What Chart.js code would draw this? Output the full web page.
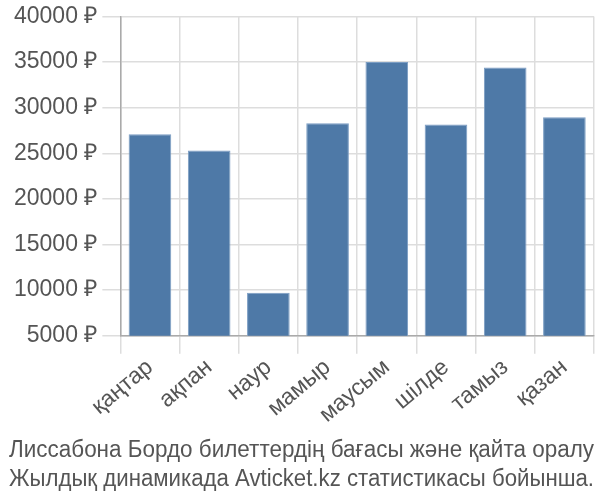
<!doctype html>
<html>
<head>
<meta charset="utf-8">
<script src="https://cdn.jsdelivr.net/npm/chart.js"></script>
<style>
  html,body{margin:0;padding:0;background:#fff}
  #wrap{width:600px;height:500px;position:relative}
</style>
</head>
<body>
<div id="wrap"><canvas id="c"></canvas></div>
<script>
const months = ['қаңтар', 'ақпан', 'наур', 'мамыр', 'маусым', 'шілде', 'тамыз', 'қазан'];
const prices = [27100, 25300, 9700, 28300, 35000, 28150, 34400, 28950];
const titleLines = ['Лиссабона Бордо билеттердің бағасы және қайта оралу', 'Жылдық динамикада Avticket.kz статистикасы бойынша.'];

const grid = '#dddddd';
new Chart(document.getElementById('c'), {
  type: 'bar',
  data: {
    labels: months,
    datasets: [{
      data: prices,
      backgroundColor: '#4e79a7',
      borderColor: '#7b9dc3',
      borderWidth: 1,
      barPercentage: 0.72,
      categoryPercentage: 1
    }]
  },
  options: {
    responsive: true,
    maintainAspectRatio: false,
    animation: false,
    layout: {padding: {top: 0, right: 6, left: 9, bottom: 0}},
    plugins: {
      legend: {display: false},
      tooltip: {enabled: false},
      title: {
        display: true,
        position: 'bottom',
        text: titleLines,
        color: '#555',
        font: {family: 'Liberation Sans', size: 23, weight: 'normal', lineHeight: 1.25},
        padding: {top: 8, bottom: 6}
      }
    },
    scales: {
      x: {
        grid: {color: grid, lineWidth: 1.5, offset: true, tickLength: 18},
        border: {color: '#aaa', width: 1.5},
        ticks: {color: '#555', font: {family: 'Liberation Sans', size: 23}, maxRotation: 40, minRotation: 40, padding: 0}
      },
      y: {
        min: 5000,
        max: 40000,
        grid: {color: grid, lineWidth: 1.5, tickLength: 18},
        border: {color: '#aaa', width: 1.5},
        ticks: {
          stepSize: 5000,
          color: '#555',
          font: {family: 'Liberation Sans', size: 23, lineHeight: 1},
          padding: 5,
          callback: v => v + ' ₽'
        }
      }
    }
  }
});
</script>
</body>
</html>
